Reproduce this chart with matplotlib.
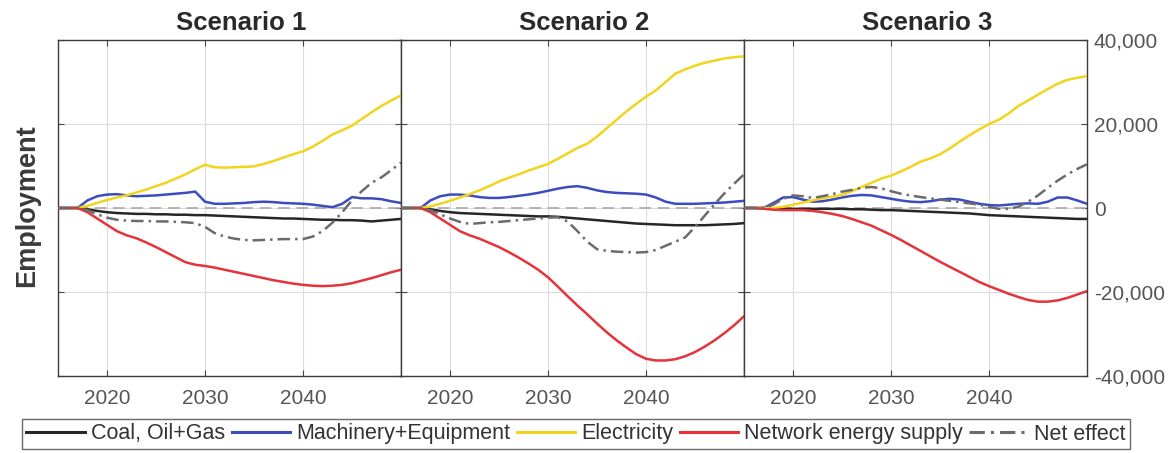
import numpy as np
import matplotlib
matplotlib.use("Agg")
import matplotlib.pyplot as plt
from matplotlib.ticker import FuncFormatter

years = np.arange(2015, 2051)
scenarios = ["Scenario 1", "Scenario 2", "Scenario 3"]
series_names = ["Coal, Oil+Gas", "Machinery+Equipment", "Electricity",
                "Network energy supply", "Net effect"]

# employment change per sector, 2015-2050
s1_coal = [0, 0, 0, -300, -700, -1000, -1200, -1300, -1400, -1400, -1500, -1500,
           -1600, -1600, -1700, -1700, -1800, -1900, -2000, -2100, -2200, -2300,
           -2400, -2500, -2500, -2600, -2700, -2800, -2800, -2900, -2900, -3000,
           -3200, -3000, -2800, -2600]
s1_mach = [0, 0, 0, 1800, 2800, 3200, 3300, 3000, 2800, 2900, 3000, 3200, 3400,
           3600, 3900, 1500, 1000, 1000, 1100, 1200, 1400, 1500, 1400, 1200, 1100,
           1000, 800, 500, 200, 1000, 2600, 2300, 2300, 2100, 1600, 1200]
s1_elec = [0, 0, 0, 500, 1200, 1900, 2500, 3000, 3700, 4400, 5200, 6000, 7000,
           8000, 9200, 10300, 9700, 9600, 9700, 9800, 9900, 10500, 11200, 12000,
           12800, 13500, 14600, 16000, 17500, 18500, 19600, 21200, 22800, 24300,
           25600, 26800]
s1_netw = [0, 0, 0, -1000, -2500, -4000, -5500, -6500, -7200, -8200, -9300,
           -10500, -11700, -12900, -13500, -13800, -14200, -14700, -15200, -15700,
           -16200, -16700, -17200, -17600, -18000, -18300, -18500, -18600, -18500,
           -18300, -17900, -17300, -16700, -16000, -15300, -14700]
s1_net = [0, 0, 0, -500, -1500, -2300, -2800, -3000, -3100, -3100, -3200, -3200,
          -3300, -3400, -3600, -4500, -6000, -6800, -7300, -7600, -7700, -7600,
          -7500, -7400, -7400, -7400, -6800, -5500, -3500, -1000, 1800, 4000, 6000,
          7300, 9000, 10800]

s2_coal = [0, 0, 0, -300, -700, -1000, -1200, -1300, -1400, -1500, -1600, -1700,
           -1800, -1900, -2000, -2000, -2100, -2300, -2500, -2700, -2900, -3100,
           -3300, -3500, -3700, -3800, -3900, -4000, -4100, -4100, -4100, -4100,
           -4000, -3900, -3800, -3600]
s2_mach = [0, 0, 0, 1800, 2800, 3200, 3200, 3000, 2600, 2400, 2400, 2600, 2900,
           3200, 3600, 4100, 4600, 5000, 5200, 4800, 4200, 3800, 3600, 3500, 3400,
           3200, 2500, 1500, 1000, 1000, 1000, 1100, 1200, 1300, 1500, 1700]
s2_elec = [0, 0, 0, 400, 1000, 1700, 2500, 3300, 4200, 5200, 6300, 7200, 8000,
           8900, 9700, 10500, 11700, 13000, 14300, 15300, 17000, 19000, 21000,
           23000, 24800, 26500, 28000, 30000, 32000, 33000, 33900, 34600, 35100,
           35600, 35900, 36100]
s2_netw = [0, 0, 0, -1000, -2500, -4000, -5500, -6500, -7300, -8300, -9300,
           -10500, -11800, -13200, -14700, -16500, -18700, -21000, -23200, -25300,
           -27500, -29600, -31500, -33200, -34800, -35900, -36300, -36300, -36000,
           -35300, -34300, -33000, -31500, -29800, -27900, -25800]
s2_net = [0, 0, 0, -500, -1500, -2500, -3300, -3800, -3600, -3400, -3300, -3100,
          -2900, -2700, -2500, -2300, -2200, -3200, -5500, -8000, -9800, -10200,
          -10400, -10500, -10600, -10500, -10000, -9000, -8000, -7000, -4500,
          -1800, 900, 3500, 5800, 8000]

s3_coal = [0, 0, 0, -100, -200, -200, -200, -200, -200, -200, -200, -300, -300,
           -400, -500, -500, -600, -700, -800, -900, -1000, -1100, -1200, -1300,
           -1500, -1700, -1800, -1900, -2000, -2100, -2200, -2300, -2400, -2500,
           -2600, -2600]
s3_mach = [0, 0, 0, 1200, 2500, 2600, 2000, 1500, 1600, 2000, 2500, 2900, 3100,
           3000, 2600, 2200, 1800, 1500, 1400, 1600, 2000, 2200, 2000, 1500, 1000,
           700, 600, 800, 1000, 1100, 1000, 1500, 2500, 2500, 1800, 1000]
s3_elec = [0, 0, 0, 0, 300, 800, 1300, 1800, 2300, 2700, 3100, 4000, 5000, 6000,
           7000, 7700, 8700, 9800, 11000, 11800, 12800, 14200, 15800, 17300, 18700,
           20000, 21000, 22500, 24300, 25600, 27000, 28300, 29600, 30500, 31000,
           31400]
s3_netw = [0, 0, -200, -400, -500, -500, -500, -700, -1000, -1400, -1900, -2600,
           -3400, -4200, -5300, -6400, -7600, -8900, -10200, -11500, -12800,
           -14000, -15200, -16400, -17600, -18600, -19500, -20400, -21200, -21900,
           -22300, -22300, -22000, -21400, -20600, -19800]
s3_net = [0, 0, 0, 800, 2200, 3000, 2800, 2400, 2800, 3300, 3900, 4300, 4800,
          5000, 4700, 4000, 3400, 3000, 2600, 2300, 2000, 1700, 1400, 1100, 800,
          300, -200, -200, 300, 1500, 3000, 4800, 6500, 8000, 9300, 10400]

data = [
    [s1_coal, s1_mach, s1_elec, s1_netw, s1_net],
    [s2_coal, s2_mach, s2_elec, s2_netw, s2_net],
    [s3_coal, s3_mach, s3_elec, s3_netw, s3_net],
]

colors = ["#262626", "#3b4cc0", "#f2d41e", "#e5323b", "#6b6b6b"]
styles = ["-", "-", "-", "-", (0, (5, 2, 1, 2))]

plt.rcParams["font.family"] = ["Liberation Sans", "DejaVu Sans"]

fig = plt.figure(figsize=(11.75, 4.53), dpi=100)
W, H = 1175, 453
lefts = [58, 401, 744]
pw = 343
top, bottom = 40, 376

axes = []
for i, left in enumerate(lefts):
    ax = fig.add_axes([left / W, 1 - bottom / H, pw / W, (bottom - top) / H])
    axes.append(ax)
    ax.axhline(0, color="#a8a8a8", linewidth=1.2, linestyle=(0, (7, 4)), zorder=1)
    for vals, c, ls in zip(data[i], colors, styles):
        ax.plot(years, vals, color=c, linestyle=ls, linewidth=1.8, zorder=3)
    ax.set_xlim(2015, 2050)
    ax.set_ylim(-40000, 40000)
    ax.set_xticks([2020, 2030, 2040])
    ax.set_yticks([-40000, -20000, 0, 20000, 40000])
    ax.grid(True, color="#dcdcdc", linewidth=0.8)
    ax.set_axisbelow(True)
    ax.tick_params(direction="in", length=4, color="#444444", labelsize=15,
                   labelcolor="#555555", top=True, right=True, left=True)
    ax.tick_params(axis="x", pad=9)
    ax.yaxis.set_ticklabels([])
    for sp in ax.spines.values():
        sp.set_color("#3c3c3c")
        sp.set_linewidth(1.0)
    ax.set_title(scenarios[i], x=0.535, fontsize=18.5, fontweight="bold",
                 color="#2a2a2a", pad=7)

# y tick labels only on the right of the last panel
axes[2].yaxis.tick_right()
axes[2].tick_params(axis="y", direction="in", left=True, labelright=True,
                    labelsize=15, labelcolor="#555555", pad=5)
axes[2].yaxis.set_major_formatter(FuncFormatter(lambda v, p: f"{v:,.0f}"))

fig.text(27 / W, 1 - 206 / H, "Employment", rotation=90, ha="center",
         va="center", fontsize=19.5, fontweight="bold", color="#3a3a3a")

handles = [plt.Line2D([], [], color=c, linestyle=ls, linewidth=2.2)
           for c, ls in zip(colors, styles)]
leg = fig.legend(handles, series_names, loc="center",
                 bbox_to_anchor=(576 / W, 1 - 434 / H), ncol=5, frameon=True,
                 fancybox=False, edgecolor="#444444", handlelength=2.7,
                 handletextpad=0.3, columnspacing=0.3, borderpad=0.2,
                 prop={"size": 15.5})
leg.get_frame().set_linewidth(1.0)
for t in leg.get_texts():
    t.set_color("#333333")

fig.savefig("out.png", dpi=100)
